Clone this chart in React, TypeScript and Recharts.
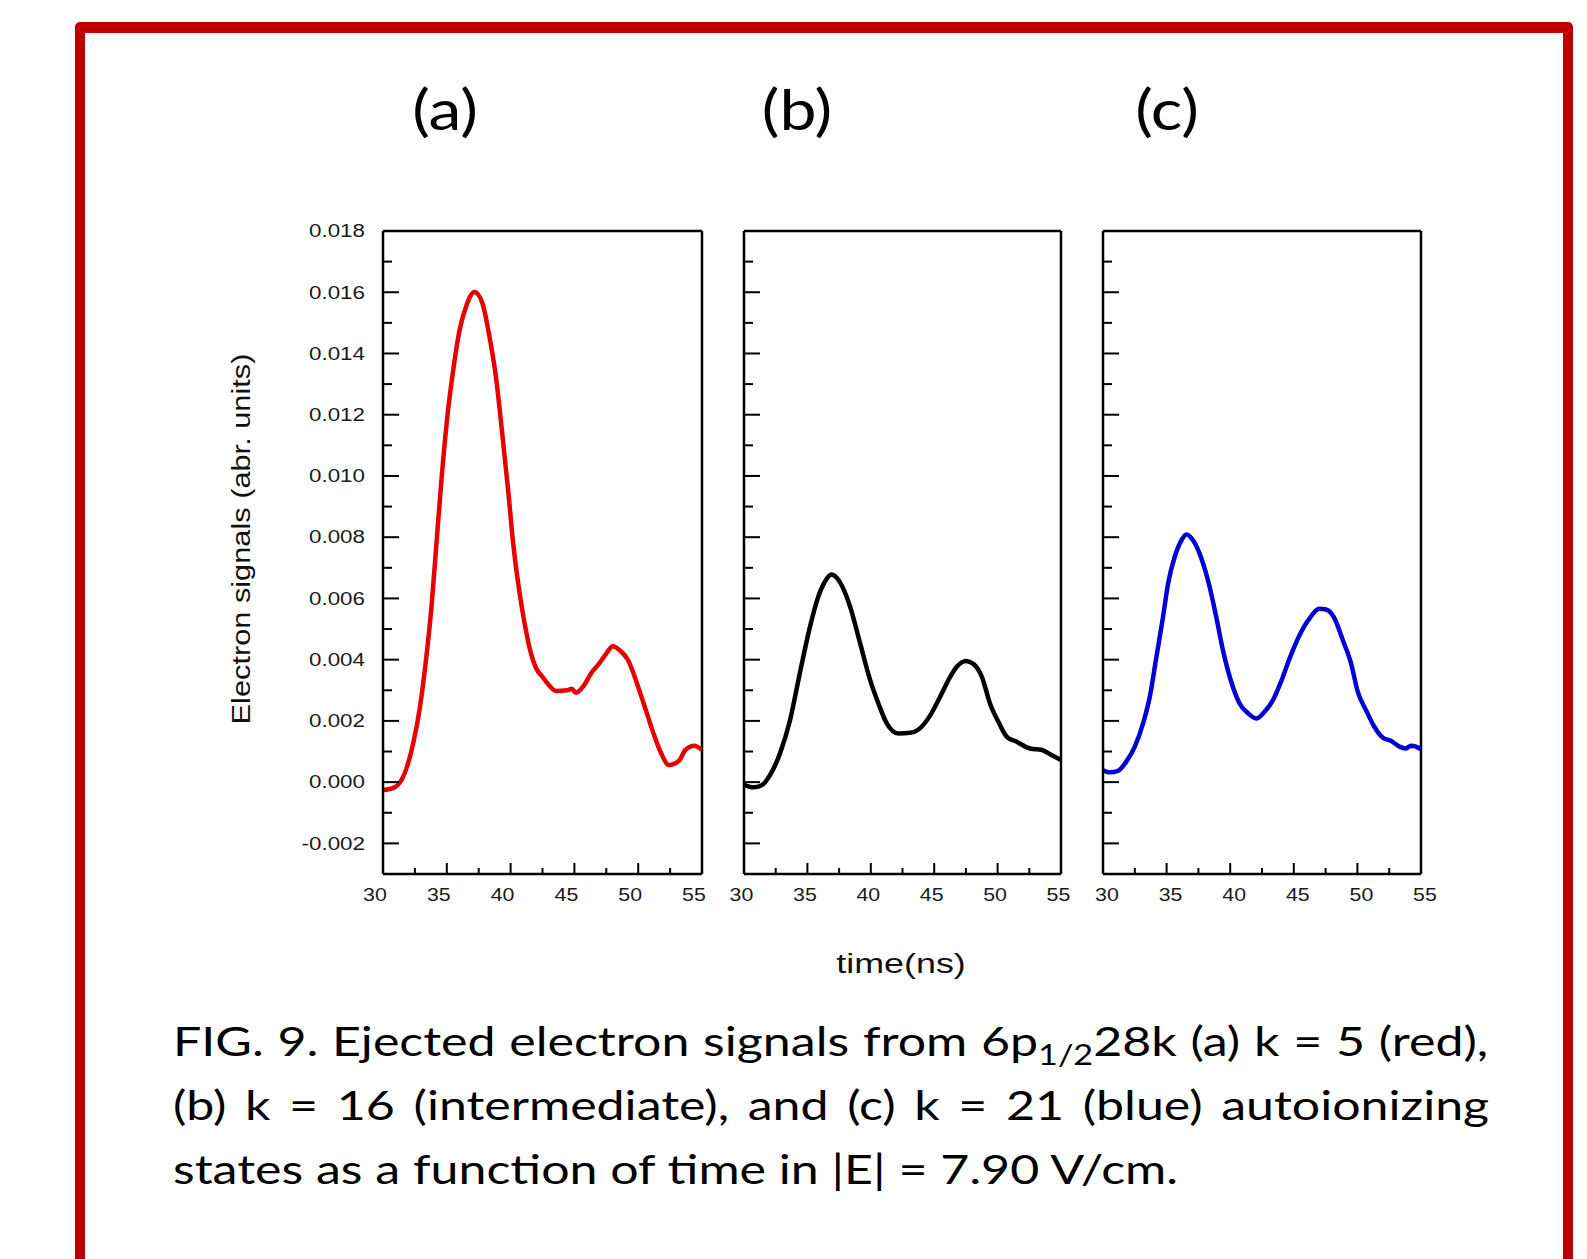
import React, { useLayoutEffect, useRef, useState } from 'react';
import { LineChart, Line, XAxis, YAxis, ReferenceLine } from 'recharts';

// ---------- data (time in ns, signal in arb. units) ----------
const timeA = [30, 30.9, 31.7, 32.37, 32.9, 33.4, 33.8, 34.2, 34.6, 35.1, 35.5, 36.0, 36.5, 37.17, 37.8, 38.3, 38.85, 39.37, 39.85, 40.15, 40.4, 40.7, 41.1, 41.6, 42.0, 42.5, 42.9, 43.55, 44.45, 44.8, 45.1, 45.77, 46.3, 46.95, 47.5, 48.0, 48.55, 49.2, 50.0, 50.6, 51.15, 51.8, 52.4, 53.2, 53.7, 54.4, 55];
const signalA = [-0.00026, -0.00017, 0.00029, 0.00127, 0.00246, 0.0041, 0.00573, 0.00785, 0.00997, 0.01215, 0.01345, 0.01476, 0.01552, 0.01601, 0.01563, 0.01465, 0.01324, 0.01128, 0.00935, 0.008, 0.0071, 0.0062, 0.00518, 0.0042, 0.00372, 0.00344, 0.00322, 0.00298, 0.003, 0.00305, 0.00292, 0.00317, 0.00355, 0.00388, 0.0042, 0.00444, 0.00431, 0.00399, 0.00311, 0.00235, 0.00165, 0.00094, 0.00056, 0.0007, 0.00105, 0.00119, 0.00105];

const timeB = [30, 30.73, 31.4, 32.05, 32.84, 33.6, 34.4, 35.2, 35.85, 36.37, 36.9, 37.55, 38.37, 39.16, 39.95, 40.6, 41.26, 42.18, 43.1, 43.76, 44.7, 45.47, 46.26, 46.78, 47.5, 48.1, 48.76, 49.4, 50.06, 50.73, 51.5, 52.57, 53.5, 54.28, 55];
const signalB = [-0.00009, -0.00017, -0.0001, 0.00023, 0.00094, 0.00197, 0.00355, 0.00507, 0.00605, 0.00654, 0.00678, 0.00654, 0.00573, 0.00453, 0.00333, 0.00257, 0.00192, 0.00159, 0.00161, 0.00172, 0.00219, 0.00279, 0.00344, 0.00377, 0.00396, 0.00386, 0.00344, 0.00257, 0.00197, 0.00148, 0.00132, 0.0011, 0.00105, 0.00088, 0.00072];

const timeC = [30, 30.52, 31.18, 31.83, 32.5, 33.15, 33.68, 34.2, 34.72, 35.12, 35.64, 36.17, 36.55, 37.08, 37.73, 38.38, 38.9, 39.43, 40.08, 40.74, 41.4, 42.05, 42.7, 43.36, 44.0, 44.67, 45.45, 46.24, 47.0, 47.54, 48.2, 48.85, 49.5, 50.03, 50.68, 51.33, 51.98, 52.64, 53.3, 53.82, 54.2, 54.6, 55];
const signalC = [0.00039, 0.00032, 0.00037, 0.00067, 0.00116, 0.00192, 0.00279, 0.00409, 0.0054, 0.00649, 0.00736, 0.0079, 0.00809, 0.0079, 0.00731, 0.00638, 0.0054, 0.00431, 0.00328, 0.00257, 0.00225, 0.00208, 0.0023, 0.00268, 0.00328, 0.00404, 0.0048, 0.00535, 0.00566, 0.00564, 0.00535, 0.00464, 0.00388, 0.00295, 0.00235, 0.00181, 0.00146, 0.00135, 0.00116, 0.0011, 0.00119, 0.00116, 0.00107];

const xTicks = [30, 32.5, 35, 37.5, 40, 42.5, 45, 47.5, 50, 52.5, 55];
const xTickLabels = ['30', '', '35', '', '40', '', '45', '', '50', '', '55'];
const yTicks = [-0.003, -0.002, -0.001, 0, 0.001, 0.002, 0.003, 0.004, 0.005, 0.006, 0.007, 0.008, 0.009, 0.01, 0.011, 0.012, 0.013, 0.014, 0.015, 0.016, 0.017, 0.018];
const yTickLabels: Record<string, string> = {
  '-2': '-0.002', '0': '0.000', '2': '0.002', '4': '0.004', '6': '0.006', '8': '0.008',
  '10': '0.010', '12': '0.012', '14': '0.014', '16': '0.016', '18': '0.018',
};
const panelLabels = ['(a)', '(b)', '(c)'];

const toRows = (t: number[], v: number[]) => t.map((tt, i) => ({ t: tt, v: v[i] }));

// ---------- layout ----------
const PLOT_TOP = 231;
const PLOT_H = 643;
const AXIS_FONT = '"Liberation Sans", Arial, sans-serif';

const YTick = (props: any) => {
  const { x, y, payload, showLabel } = props;
  const k = Math.round(payload.value * 1000);
  const major = k % 2 === 0;
  const len = major ? 16 : 9;
  const label = yTickLabels[String(k)];
  return (
    <g>
      <line x1={x} x2={x + len} y1={y} y2={y} stroke="#000" strokeWidth={2} />
      {showLabel && major && label && (
        <text
          transform={`translate(${x - 18},${y + 6.3}) scale(1.28,1)`}
          textAnchor="end"
          fontFamily={AXIS_FONT}
          fontSize={17.5}
          fill="#1a1a1a"
        >
          {label}
        </text>
      )}
    </g>
  );
};

const XTick = (props: any) => {
  const { x, y, labelDx, index } = props;
  const label = xTickLabels[index];
  const major = label !== '';
  const len = major ? 11 : 6;
  return (
    <g>
      <line x1={x} x2={x} y1={y} y2={y - len} stroke="#000" strokeWidth={2} />
      {major && (
        <text
          transform={`translate(${x + labelDx},${y + 27}) scale(1.22,1)`}
          textAnchor="middle"
          fontFamily={AXIS_FONT}
          fontSize={17.5}
          fill="#1a1a1a"
        >
          {label}
        </text>
      )}
    </g>
  );
};

function Panel({ left, width, data, color, showYLabels, labelDx }: any) {
  const yAxisW = 110;
  const mTop = 10;
  const mRight = 20;
  const xAxisH = 50;
  return (
    <div style={{ position: 'absolute', left: left - yAxisW, top: PLOT_TOP - mTop }}>
      <LineChart
        width={yAxisW + width + mRight}
        height={mTop + PLOT_H + xAxisH}
        data={data}
        margin={{ top: mTop, right: mRight, bottom: 0, left: 0 }}
      >
        <XAxis
          dataKey="t"
          type="number"
          domain={[30, 55]}
          ticks={xTicks}
          interval={0}
          allowDataOverflow
          height={xAxisH}
          tickSize={0}
          tickMargin={0}
          tickLine={false}
          axisLine={{ stroke: '#000', strokeWidth: 2.5 }}
          tick={(p: any) => <XTick {...p} labelDx={labelDx} />}
        />
        <YAxis
          type="number"
          domain={[-0.003, 0.018]}
          ticks={yTicks}
          interval={0}
          allowDataOverflow
          width={yAxisW}
          tickSize={0}
          tickMargin={0}
          tickLine={false}
          axisLine={{ stroke: '#000', strokeWidth: 2.5 }}
          tick={(p: any) => <YTick {...p} showLabel={showYLabels} />}
        />
        <ReferenceLine y={0.018} stroke="#000" strokeWidth={2.5} />
        <ReferenceLine x={55} stroke="#000" strokeWidth={2.5} />
        <Line
          dataKey="v"
          type="monotone"
          stroke={color}
          strokeWidth={4.5}
          dot={false}
          isAnimationActive={false}
        />
      </LineChart>
    </div>
  );
}

const CAPTION_FONT = 'Lato, sans-serif';
const CAP_SIZE = 41;

function Caption() {
  const r1 = useRef<SVGTextElement>(null);
  const r2 = useRef<SVGTextElement>(null);
  const r3 = useRef<SVGTextElement>(null);
  const [st, setSt] = useState({ s: 1.2, w1: 0, w2: 0 });
  useLayoutEffect(() => {
    if (!r1.current || !r2.current || !r3.current) return;
    const n1 = r1.current.getComputedTextLength();
    const n2 = r2.current.getComputedTextLength();
    const n3 = r3.current.getComputedTextLength();
    const s = 1005 / n3;
    const sp1 = (r1.current.textContent || '').split(' ').length - 1;
    const sp2 = (r2.current.textContent || '').split(' ').length - 1;
    setSt({ s, w1: (1315 / s - n1) / sp1, w2: (1316 / s - n2) / sp2 });
  }, []);
  return (
    <g transform={`translate(173,0) scale(${st.s},1)`} fontFamily={CAPTION_FONT} fontSize={CAP_SIZE} fill="#000">
      <text ref={r1} x={0} y={1056} style={{ wordSpacing: st.w1 }}>
        FIG. 9. Ejected electron signals from 6p<tspan fontSize={28} dy={9}>1/2</tspan><tspan dy={-9}>28k (a) k = 5 (red),</tspan>
      </text>
      <text ref={r2} x={0} y={1120} style={{ wordSpacing: st.w2 }}>
        (b) k = 16 (intermediate), and (c) k = 21 (blue) autoionizing
      </text>
      <text ref={r3} x={0} y={1184}>
        states as a function of time in |E| = 7.90 V/cm.
      </text>
    </g>
  );
}

export default function App() {
  return (
    <div style={{ position: 'absolute', left: 0, top: 0, width: 1587, height: 1259, background: '#fff', overflow: 'hidden' }}>
      <div
        style={{
          position: 'absolute', left: 75, top: 22, width: 1498, height: 1400,
          border: '10px solid #c00000', borderTopWidth: 11, borderRadius: 5, boxSizing: 'border-box',
        }}
      />
      <Panel left={383} width={319} data={toRows(timeA, signalA)} color="#e60000" showYLabels labelDx={-8} />
      <Panel left={744} width={317} data={toRows(timeB, signalB)} color="#000000" showYLabels={false} labelDx={-2.5} />
      <Panel left={1103} width={318} data={toRows(timeC, signalC)} color="#0000d4" showYLabels={false} labelDx={4} />
      <svg width={1587} height={1259} style={{ position: 'absolute', left: 0, top: 0, pointerEvents: 'none' }}>
        <text transform="translate(445,130) scale(1.18,1)" textAnchor="middle" fontFamily={CAPTION_FONT} fontSize={56}>{panelLabels[0]}</text>
        <text transform="translate(797,130) scale(1.18,1)" textAnchor="middle" fontFamily={CAPTION_FONT} fontSize={56}>{panelLabels[1]}</text>
        <text transform="translate(1167,130) scale(1.18,1)" textAnchor="middle" fontFamily={CAPTION_FONT} fontSize={56}>{panelLabels[2]}</text>
        <text
          transform="translate(242,539) rotate(-90) scale(1.23,1)"
          textAnchor="middle"
          dominantBaseline="central"
          fontFamily={AXIS_FONT}
          fontSize={25}
          fill="#111"
        >
          Electron signals (abr. units)
        </text>
        <text transform="translate(901,973) scale(1.33,1)" textAnchor="middle" fontFamily={AXIS_FONT} fontSize={27} fill="#111">
          time(ns)
        </text>
        <Caption />
      </svg>
    </div>
  );
}
